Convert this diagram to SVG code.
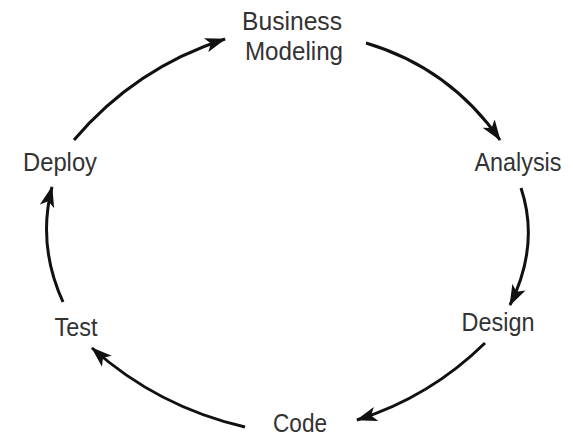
<svg xmlns="http://www.w3.org/2000/svg" width="573" height="441" viewBox="0 0 573 441">
<style>
.lbl{font-family:"Liberation Sans",Arial,sans-serif;font-size:25px;fill:#333;text-anchor:middle}
.edge{fill:none;stroke:#111;stroke-width:3;marker-end:url(#ah)}
</style>
<defs>
<marker id="ah" markerUnits="userSpaceOnUse" viewBox="0 0 20 14" markerWidth="21" markerHeight="15" refX="19" refY="7" orient="auto">
<path d="M0,0 L20,7 L0,14 L5,7 Z" fill="#111"/>
</marker>
</defs>
<rect width="573" height="441" fill="#fff"/>
<g id="connectors">
<path class="edge" d="M74,140 Q135,68 225,39"/>
<path class="edge" d="M366,43 Q450,68 500,140"/>
<path class="edge" d="M521,188 Q540,245 510,305"/>
<path class="edge" d="M485,343 Q430,397 357,420"/>
<path class="edge" d="M245,427 Q158,407 92,348"/>
<path class="edge" d="M63,302 Q37,245 52,187"/>
</g>
<g id="business-modeling"><text class="lbl" x="292" y="30" textLength="100" lengthAdjust="spacingAndGlyphs">Business</text><text class="lbl" x="294" y="60" textLength="98" lengthAdjust="spacingAndGlyphs">Modeling</text></g>
<g id="analysis"><text class="lbl" x="518" y="171" textLength="87" lengthAdjust="spacingAndGlyphs">Analysis</text></g>
<g id="design"><text class="lbl" x="498" y="331" textLength="73" lengthAdjust="spacingAndGlyphs">Design</text></g>
<g id="code"><text class="lbl" x="300" y="432" textLength="54" lengthAdjust="spacingAndGlyphs">Code</text></g>
<g id="test"><text class="lbl" x="76" y="336" textLength="43" lengthAdjust="spacingAndGlyphs">Test</text></g>
<g id="deploy"><text class="lbl" x="60" y="171" textLength="74" lengthAdjust="spacingAndGlyphs">Deploy</text></g>
</svg>
